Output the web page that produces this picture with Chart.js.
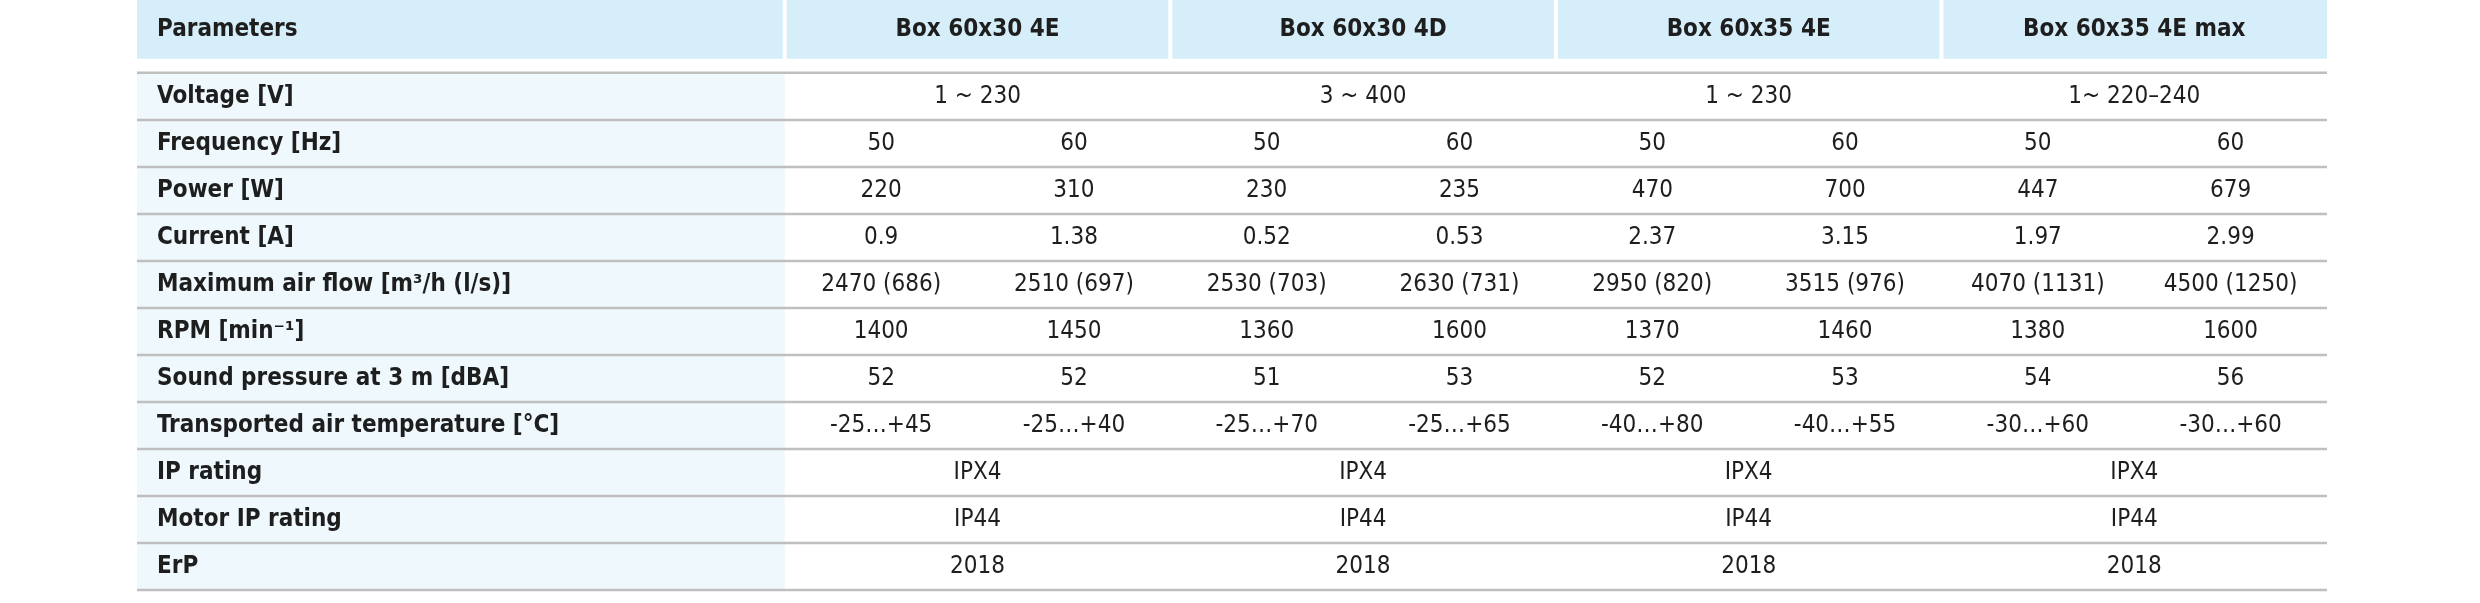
<!DOCTYPE html>
<html>
<head>
<meta charset="utf-8">
<script src="https://cdn.jsdelivr.net/npm/chart.js@4/dist/chart.umd.min.js"></script>
<style>
  html, body { margin:0; padding:0; background:#fff; }
  #wrap { width:2480px; height:603px; }
</style>
</head>
<body>
<div id="wrap"><canvas id="tbl"></canvas></div>
<script>
const FONT = '"Liberation Sans Narrow", "DejaVu Sans Condensed", "Roboto", sans-serif';

const headerLabel = 'Parameters';
const models = ['Box 60x30 4E', 'Box 60x30 4D', 'Box 60x35 4E', 'Box 60x35 4E max'];

const params = [
  'Voltage [V]',
  'Frequency [Hz]',
  'Power [W]',
  'Current [A]',
  'Maximum air flow [m³/h (l/s)]',
  'RPM [min⁻¹]',
  'Sound pressure at 3 m [dBA]',
  'Transported air temperature [°C]',
  'IP rating',
  'Motor IP rating',
  'ErP'
];

// 4 entries = one value per model, 8 entries = 50 Hz / 60 Hz per model
const voltage   = ['1 ~ 230', '3 ~ 400', '1 ~ 230', '1~ 220–240'];
const frequency = ['50', '60', '50', '60', '50', '60', '50', '60'];
const power     = ['220', '310', '230', '235', '470', '700', '447', '679'];
const current   = ['0.9', '1.38', '0.52', '0.53', '2.37', '3.15', '1.97', '2.99'];
const airflow   = ['2470 (686)', '2510 (697)', '2530 (703)', '2630 (731)', '2950 (820)', '3515 (976)', '4070 (1131)', '4500 (1250)'];
const rpm       = ['1400', '1450', '1360', '1600', '1370', '1460', '1380', '1600'];
const sound     = ['52', '52', '51', '53', '52', '53', '54', '56'];
const temp      = ['-25…+45', '-25…+40', '-25…+70', '-25…+65', '-40…+80', '-40…+55', '-30…+60', '-30…+60'];
const ipRating  = ['IPX4', 'IPX4', 'IPX4', 'IPX4'];
const motorIp   = ['IP44', 'IP44', 'IP44', 'IP44'];
const erp       = ['2018', '2018', '2018', '2018'];

const rows = [voltage, frequency, power, current, airflow, rpm, sound, temp, ipRating, motorIp, erp];

// x in sub-column units: label column 0..LABEL_W, then 8 sub-columns
const LABEL_W = 3.36;
const HEAD_H = 1.25;
const FIRST_ROW = 1.55;

const tablePlugin = {
  id: 'table',
  afterDraw(chart) {
    const c = chart.ctx, x = chart.scales.x, y = chart.scales.y;
    const X = v => x.getPixelForValue(v), Y = v => y.getPixelForValue(v);
    c.save();
    // header
    c.fillStyle = '#d5eefa';
    const hx = [0, LABEL_W, LABEL_W + 2, LABEL_W + 4, LABEL_W + 6, LABEL_W + 8];
    for (let i = 0; i < 5; i++) {
      const l = X(hx[i]) + (i ? 2 : 0), r = X(hx[i + 1]) - (i < 4 ? 2 : 0);
      c.fillRect(l, Y(0), r - l, Y(HEAD_H) - Y(0));
    }
    c.fillStyle = '#1e1e1e';
    c.textBaseline = 'middle';
    c.font = 'bold 24px ' + FONT;
    c.textAlign = 'left';
    c.fillText(headerLabel, X(0) + 20, Y(HEAD_H / 2));
    c.textAlign = 'center';
    models.forEach((m, i) => c.fillText(m, X(LABEL_W + 2 * i + 1), Y(HEAD_H / 2)));

    // body
    rows.forEach((vals, r) => {
      const top = FIRST_ROW + r, mid = top + 0.5;
      c.fillStyle = '#eef8fd';
      c.fillRect(X(0), Y(top), X(LABEL_W) - X(0), Y(top + 1) - Y(top));
      c.fillStyle = '#1e1e1e';
      c.font = 'bold 24px ' + FONT;
      c.textAlign = 'left';
      c.fillText(params[r], X(0) + 20, Y(mid));
      c.font = '24px ' + FONT;
      c.textAlign = 'center';
      const span = 8 / vals.length;
      vals.forEach((v, i) => c.fillText(v, X(LABEL_W + span * i + span / 2), Y(mid)));
    });
    c.strokeStyle = '#bfbfbf';
    c.lineWidth = 2.5;
    for (let r = 0; r <= rows.length; r++) {
      c.beginPath();
      c.moveTo(X(0), Y(FIRST_ROW + r));
      c.lineTo(X(LABEL_W + 8), Y(FIRST_ROW + r));
      c.stroke();
    }
    c.restore();
  }
};

new Chart(document.getElementById('tbl'), {
  type: 'scatter',
  data: { datasets: [{ data: [] }] },
  options: {
    responsive: true,
    maintainAspectRatio: false,
    animation: false,
    layout: { padding: { left: 137, right: 153, top: 0, bottom: 13 } },
    plugins: { legend: { display: false }, tooltip: { enabled: false } },
    scales: {
      x: { type: 'linear', display: false, min: 0, max: LABEL_W + 8 },
      y: { type: 'linear', display: false, reverse: true, min: 0, max: FIRST_ROW + rows.length }
    }
  },
  plugins: [tablePlugin]
});
</script>
</body>
</html>
